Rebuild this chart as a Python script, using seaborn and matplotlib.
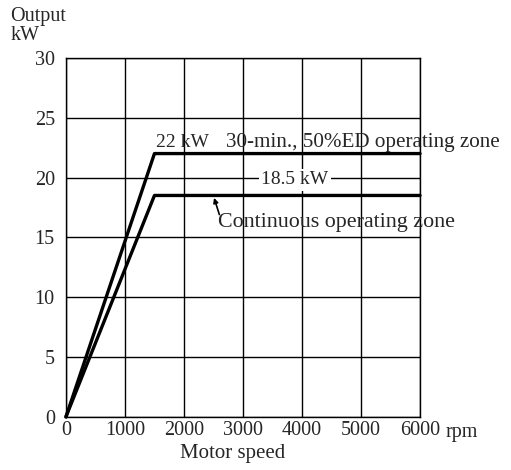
import pandas as pd
import matplotlib.pyplot as plt
import seaborn as sns

# Output curves (speed in rpm, output in kW)
speed = [0, 1500, 6000]
output_30min = [0, 22, 22]
output_cont = [0, 18.5, 18.5]

x_ticks = [0, 1000, 2000, 3000, 4000, 5000, 6000]
y_ticks = [0, 5, 10, 15, 20, 25, 30]

df = pd.DataFrame({
    'speed': speed * 2,
    'output': output_30min + output_cont,
    'zone': ['30min'] * 3 + ['cont'] * 3,
})

sns.set_style('white')
plt.rcParams['font.family'] = ['Liberation Serif', 'DejaVu Serif']

fig = plt.figure(figsize=(5.11, 4.70), dpi=100)
ax = fig.add_axes([0.129, 0.113, 0.693, 0.764])

sns.lineplot(data=df, x='speed', y='output', hue='zone', palette=['black', 'black'],
             linewidth=2.4, legend=False, ax=ax, clip_on=False, zorder=3)

ax.set_xlim(0, 6000)
ax.set_ylim(0, 30)
ax.set_xticks(x_ticks)
ax.set_yticks(y_ticks)
ax.set_xticklabels([str(v) for v in x_ticks], fontsize=14.5)
ax.set_yticklabels([str(v) for v in y_ticks], fontsize=14.5)
ax.tick_params(axis='x', length=0, pad=3)
ax.tick_params(axis='y', length=0, pad=8)
ax.grid(True, color='black', linewidth=1.0)
ax.set_axisbelow(True)
for s in ax.spines.values():
    s.set_color('black')
    s.set_linewidth(1.0)

ax.set_xlabel('Motor speed', fontsize=15, labelpad=0)
ax.xaxis.set_label_coords(0.47, -0.075)
ax.set_ylabel('')

ax.text(6440, -0.55, 'rpm', fontsize=14.5, ha='left', va='top', clip_on=False)
fig.text(0.02, 0.905, 'Output\nkW', fontsize=14.5, ha='left', va='bottom', linespacing=1.0)

ax.text(1980, 22.9, '22 kW', fontsize=14, ha='center', va='center')
ax.text(5030, 22.9, '30-min., 50%ED operating zone', fontsize=15.2, ha='center',
        va='center', clip_on=False)
ax.text(3880, 19.8, '18.5 kW', fontsize=14, ha='center', va='center', zorder=2,
        bbox=dict(facecolor='white', edgecolor='none', pad=2))
ax.text(4585, 16.2, 'Continuous operating zone', fontsize=15.8, ha='center', va='center',
        clip_on=False)
ax.annotate('', xy=(2510, 18.3), xytext=(2600, 16.9),
            arrowprops=dict(arrowstyle='-|>', color='black', lw=1.2, mutation_scale=7,
                            shrinkA=0, shrinkB=0))

fig.savefig('out.png', dpi=100)
